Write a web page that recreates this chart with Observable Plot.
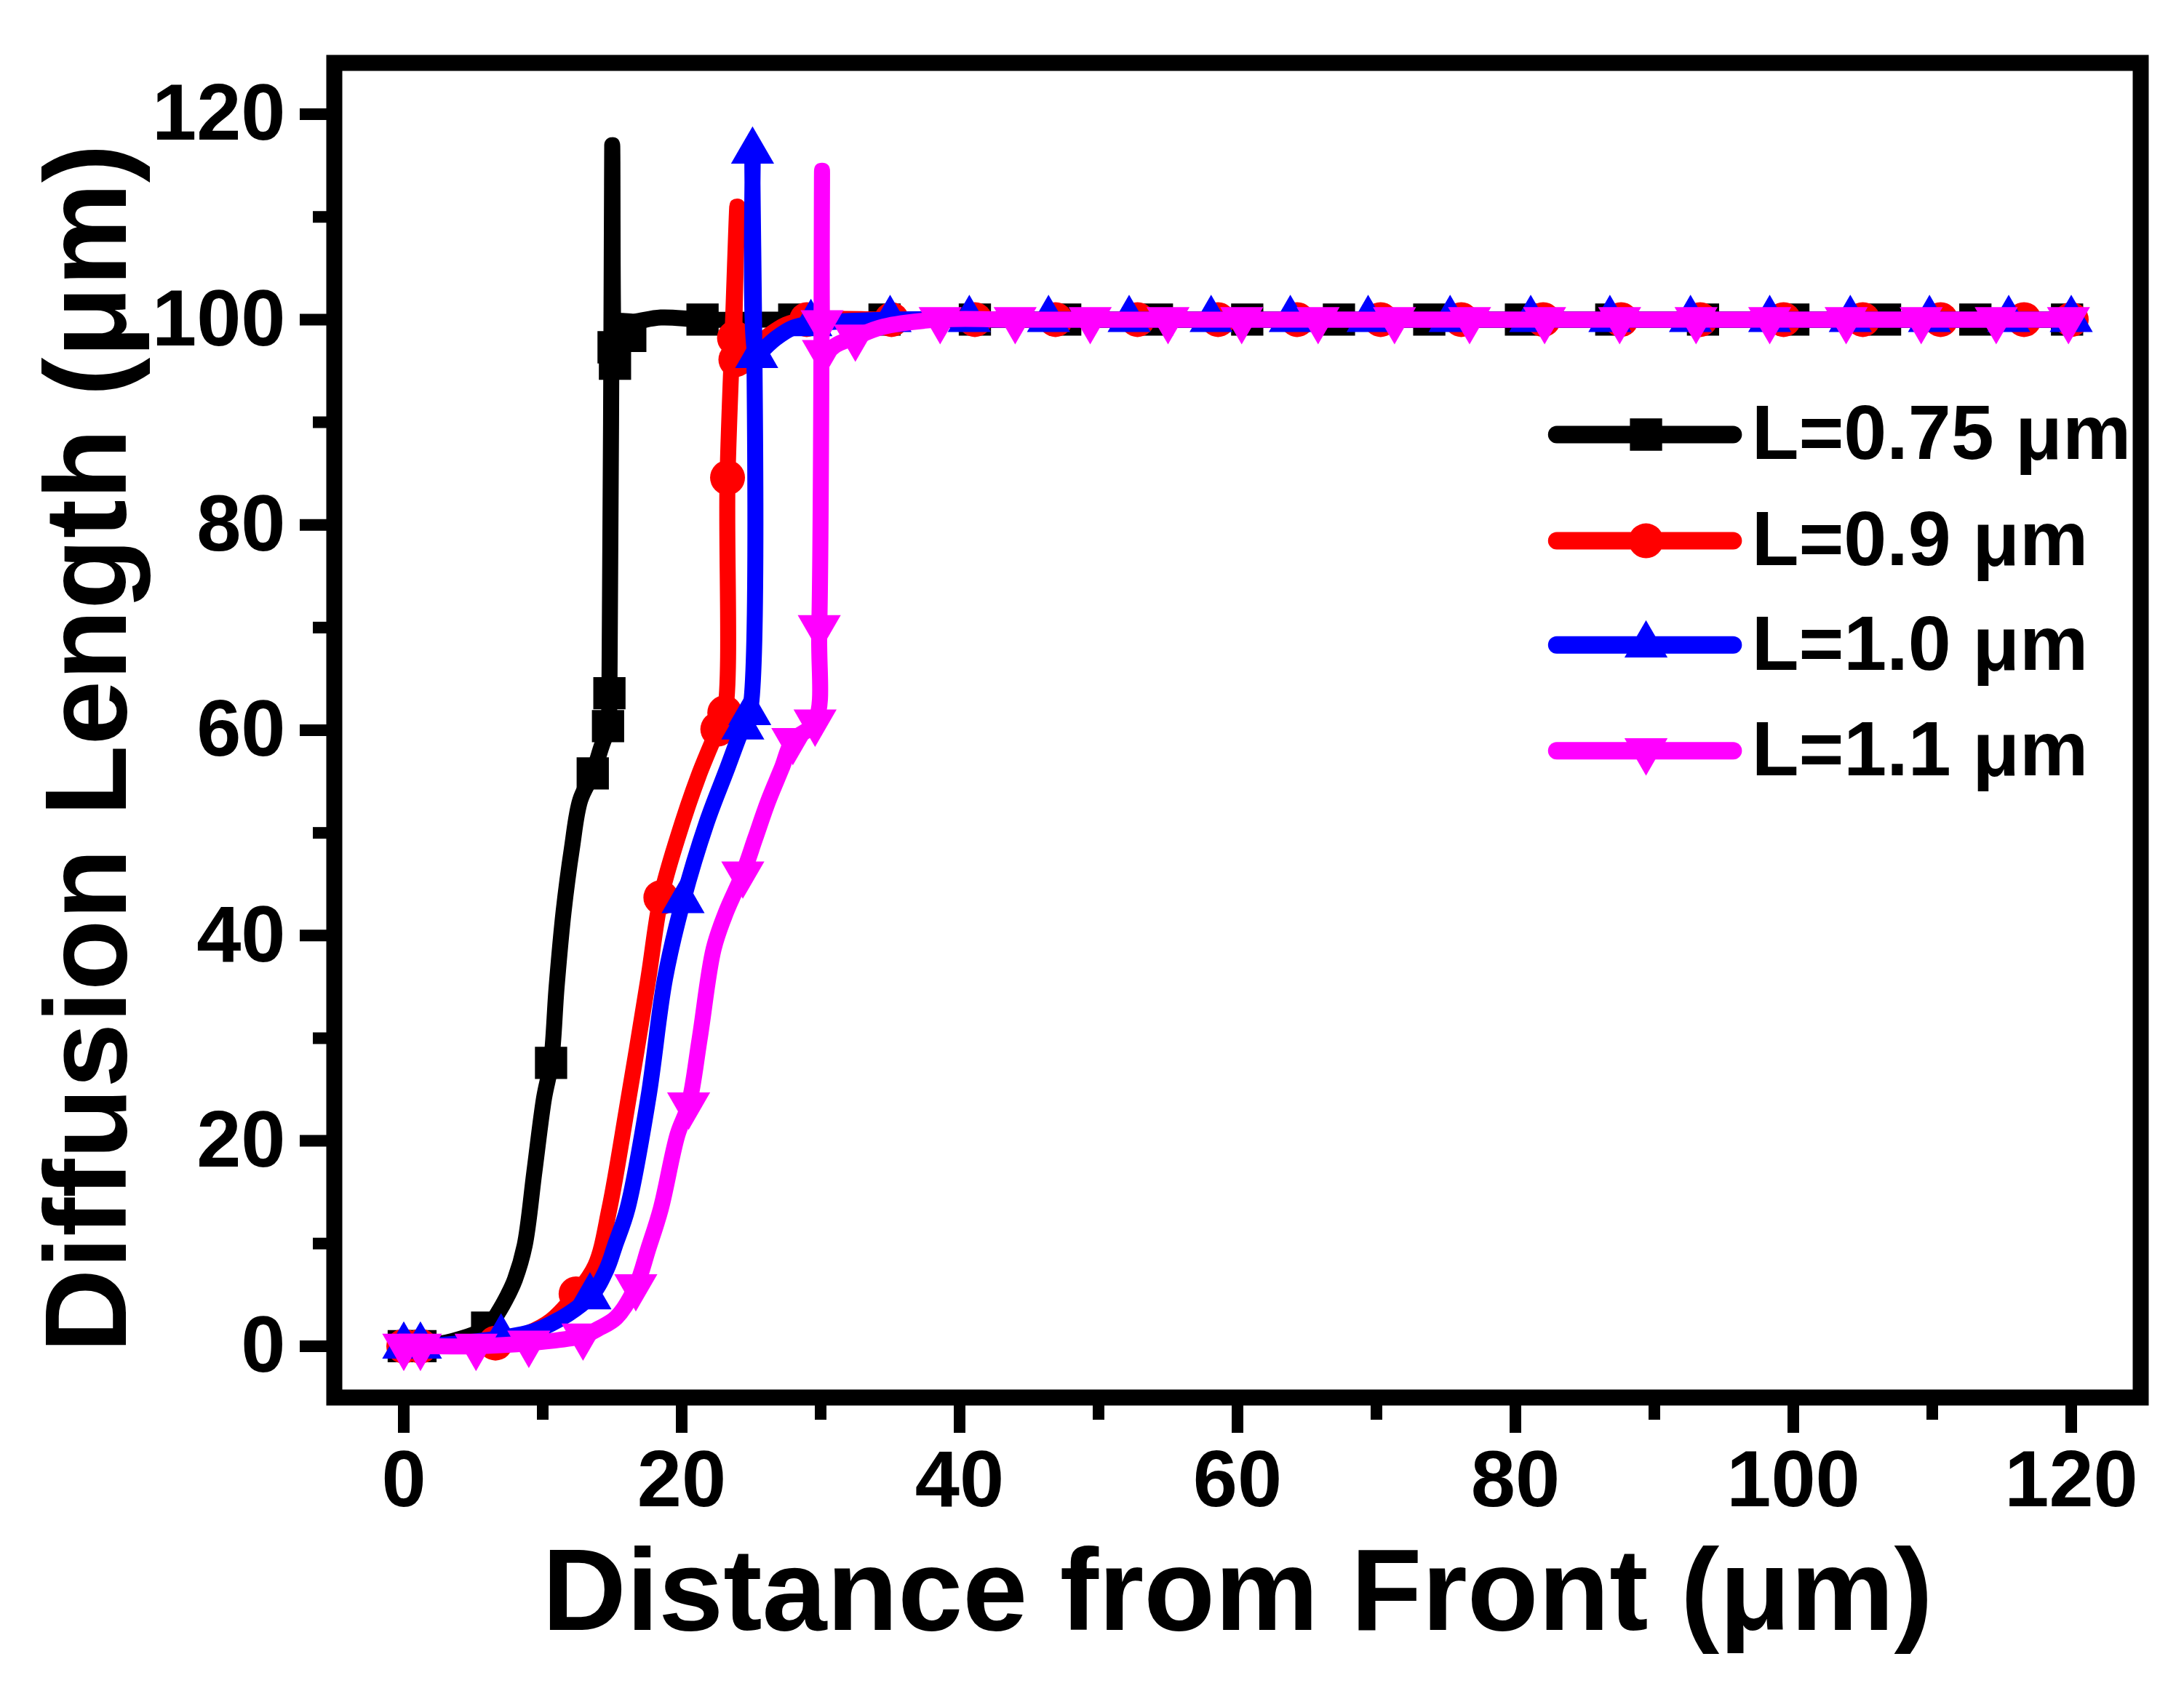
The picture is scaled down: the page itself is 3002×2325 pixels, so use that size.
<!DOCTYPE html>
<html><head><meta charset="utf-8">
<script src="https://cdn.jsdelivr.net/npm/d3@7"></script>
<script src="https://cdn.jsdelivr.net/npm/@observablehq/plot@0.6"></script>
<style>html,body{margin:0;padding:0;background:#fff} svg{display:block}</style>
</head><body><div id="chart"></div>
<script>
// ---- axis ticks ----
const xMajorTicks = [0, 20, 40, 60, 80, 100, 120];
const xMinorTicks = [10, 30, 50, 70, 90, 110];
const yMajorTicks = [0, 20, 40, 60, 80, 100, 120];
const yMinorTicks = [10, 30, 50, 70, 90, 110];
const seriesNames = ["L=0.75 μm", "L=0.9 μm", "L=1.0 μm", "L=1.1 μm"];
const seriesColors = ["#000000", "#ff0000", "#0000ff", "#ff00ff"];

// ---- L=0.75 um (black, squares) ----
const blackLineX = [0, 1.2, 3.5, 6.0, 6.8, 7.5, 8.0, 8.7, 9.4, 10.1, 10.6, 11.0, 11.5, 12.1, 12.7, 13.6, 14.2, 14.7, 14.8, 15.0, 15.1, 15.2, 15.4, 16.6, 18.5, 21.5, 28.1, 34.6, 41.1, 47.6, 54.2, 60.7, 67.3, 73.8, 80.4, 86.9, 93.5, 100.0, 106.6, 113.1, 119.7, 120.0];
const blackLineY = [0, 0, 0.5, 1.8, 3.3, 5.0, 6.5, 9.8, 17.0, 24.2, 27.6, 35.0, 42.3, 48.5, 53.2, 55.8, 58.3, 60.4, 63.6, 117.0, 97.3, 95.7, 99.7, 99.8, 100.2, 100, 100, 100, 100, 100, 100, 100, 100, 100, 100, 100, 100, 100, 100, 100, 100, 100];
const blackMarkX = [0, 1.2, 6.0, 10.6, 13.6, 14.7, 14.8, 15.1, 15.2, 16.3, 21.5, 28.1, 34.6, 41.1, 47.6, 54.2, 60.7, 67.3, 73.8, 80.4, 86.9, 93.5, 100.0, 106.6, 113.1, 119.7];
const blackMarkY = [0, 0, 1.8, 27.6, 55.8, 60.4, 63.6, 97.3, 95.7, 98.4, 100, 100, 100, 100, 100, 100, 100, 100, 100, 100, 100, 100, 100, 100, 100, 100];

// ---- L=0.9 um (red, circles) ----
const redLineX = [0, 1.2, 6.6, 9.0, 10.6, 12.4, 13.8, 14.8, 16.1, 17.6, 18.5, 19.7, 21.2, 22.6, 23.1, 23.3, 23.7, 24.0, 23.8, 23.9, 24.8, 26.1, 27.5, 29.0, 35.1, 41.1, 46.9, 52.8, 58.6, 64.3, 70.3, 76.1, 82.0, 87.6, 93.3, 99.3, 105.0, 110.6, 116.6, 120.0];
const redLineY = [0, 0, 0.3, 1.3, 2.5, 5.1, 7.9, 13.4, 23.5, 35.8, 43.7, 49.5, 55.5, 60.1, 61.7, 84.6, 100, 111, 98.2, 96.1, 96.9, 98.3, 99.5, 100, 100, 100, 100, 100, 100, 100, 100, 100, 100, 100, 100, 100, 100, 100, 100, 100];
const redMarkX = [0, 1.2, 6.6, 12.4, 18.5, 22.6, 23.1, 23.3, 23.8, 23.9, 29.0, 35.1, 41.1, 46.9, 52.8, 58.6, 64.3, 70.3, 76.1, 82.0, 87.6, 93.3, 99.3, 105.0, 110.6, 116.6, 120.0];
const redMarkY = [0, 0, 0.3, 5.1, 43.7, 60.1, 61.7, 84.6, 98.2, 96.1, 100, 100, 100, 100, 100, 100, 100, 100, 100, 100, 100, 100, 100, 100, 100, 100, 100];

// ---- L=1.0 um (blue, up triangles) ----
const blueLineX = [0, 1.2, 7.0, 10.0, 13.4, 14.6, 15.2, 16.1, 17.6, 18.8, 20.1, 21.8, 23.2, 24.4, 24.9, 25.1, 25.4, 25.8, 26.8, 28.0, 29.3, 35.0, 40.7, 46.4, 52.2, 58.1, 63.8, 69.4, 75.3, 81.1, 86.8, 92.6, 98.3, 104.1, 109.8, 115.5, 120.0];
const blueLineY = [0, 0, 0.8, 1.8, 4.8, 7.5, 9.8, 13.4, 24.2, 35.8, 43.4, 51.0, 56.0, 60.3, 61.7, 116.4, 96.5, 97.0, 98.2, 99.2, 99.6, 100, 100, 100, 100, 100, 100, 100, 100, 100, 100, 100, 100, 100, 100, 100, 100];
const blueMarkX = [0, 1.2, 7.0, 13.4, 20.1, 24.4, 24.9, 25.1, 25.4, 29.3, 35.0, 40.7, 46.4, 52.2, 58.1, 63.8, 69.4, 75.3, 81.1, 86.8, 92.6, 98.3, 104.1, 109.8, 115.5, 120.0];
const blueMarkY = [0, 0, 0.8, 4.8, 43.4, 60.3, 61.7, 116.4, 96.5, 99.6, 100, 100, 100, 100, 100, 100, 100, 100, 100, 100, 100, 100, 100, 100, 100, 100];

// ---- L=1.1 um (magenta, down triangles) ----
const pinkLineX = [0, 1.2, 5.2, 9.0, 12.9, 14.0, 15.3, 16.7, 17.6, 18.5, 19.7, 20.5, 21.3, 22.3, 23.2, 24.4, 25.3, 26.2, 27.2, 28.0, 29.6, 29.9, 30.1, 30.1, 30.2, 31.2, 32.5, 34.5, 38.6, 44.0, 49.4, 55.0, 60.3, 65.8, 71.3, 76.7, 82.1, 87.5, 93.0, 98.3, 103.8, 109.2, 114.6, 119.8, 120.0];
const pinkLineY = [0, 0, 0, 0.3, 1.0, 1.7, 2.8, 5.8, 9.5, 13.4, 20.6, 23.5, 30.0, 38.7, 42.3, 46.0, 49.5, 53.0, 56.3, 59.0, 60.8, 70.0, 114.5, 99.7, 96.8, 97.6, 98.3, 99.3, 100, 100, 100, 100, 100, 100, 100, 100, 100, 100, 100, 100, 100, 100, 100, 100, 100];
const pinkMarkX = [0, 1.2, 5.2, 9.0, 12.9, 16.7, 20.5, 24.4, 28.0, 29.6, 29.9, 30.1, 30.2, 32.5, 38.6, 44.0, 49.4, 55.0, 60.3, 65.8, 71.3, 76.7, 82.1, 87.5, 93.0, 98.3, 103.8, 109.2, 114.6, 119.8];
const pinkMarkY = [0, 0, 0, 0.3, 1.0, 5.8, 23.5, 46.0, 59.0, 60.8, 70.0, 99.7, 96.8, 98.3, 100, 100, 100, 100, 100, 100, 100, 100, 100, 100, 100, 100, 100, 100, 100, 100];

// ---- legend placement (data units) ----
const legendRowY = [88.8, 78.45, 68.3, 58.0];
const legendLineX1 = 83.0, legendLineX2 = 95.7, legendMarkerX = 89.4, legendTextX = 97.0;

const zip = (xs, ys) => xs.map((x, i) => ({x, y: ys[i]}));
const series = [
  {name: seriesNames[0], color: seriesColors[0], symbol: "square", rotate: 0, r: 25, line: zip(blackLineX, blackLineY), marks: zip(blackMarkX, blackMarkY)},
  {name: seriesNames[1], color: seriesColors[1], symbol: "circle", rotate: 0, r: 24, line: zip(redLineX, redLineY), marks: zip(redMarkX, redMarkY)},
  {name: seriesNames[2], color: seriesColors[2], symbol: "triangle", rotate: 0, r: 22, line: zip(blueLineX, blueLineY), marks: zip(blueMarkX, blueMarkY)},
  {name: seriesNames[3], color: seriesColors[3], symbol: "triangle", rotate: 180, r: 22, line: zip(pinkLineX, pinkLineY), marks: zip(pinkMarkX, pinkMarkY)}
];

const font = "'Liberation Sans', Arial, Helvetica, sans-serif";
const marks = [];
for (const s of series) {
  marks.push(Plot.line(s.line, {x: "x", y: "y", stroke: s.color, strokeWidth: 22, strokeLinejoin: "round", strokeLinecap: "round", curve: "catmull-rom"}));
  marks.push(Plot.dot(s.marks, {x: "x", y: "y", symbol: s.symbol, r: s.r, fill: s.color, stroke: "none", rotate: s.rotate}));
}
// legend
series.forEach((s, i) => {
  const row = [{y: legendRowY[i], name: s.name}];
  marks.push(Plot.ruleY(row, {y: "y", x1: legendLineX1, x2: legendLineX2, stroke: s.color, strokeWidth: 24, strokeLinecap: "round"}));
  marks.push(Plot.dot(row, {x: legendMarkerX, y: "y", symbol: s.symbol, r: s.r, fill: s.color, stroke: "none", rotate: s.rotate}));
  marks.push(Plot.text(row, {x: legendTextX, y: "y", text: "name", textAnchor: "start", lineAnchor: "middle", fontSize: 106, fontWeight: "bold", fill: "#000"}));
});
// frame and axes
marks.push(Plot.frame({stroke: "#000", strokeWidth: 22}));
marks.push(Plot.axisX({ticks: xMajorTicks, tickSize: 49, tickPadding: 22, strokeWidth: 16, fontSize: 110, fontWeight: "bold", label: null, tickFormat: d => String(d)}));
marks.push(Plot.axisX({ticks: xMinorTicks, tickSize: 31, strokeWidth: 16, label: null, tickFormat: () => ""}));
marks.push(Plot.axisY({ticks: yMajorTicks, tickSize: 47, tickPadding: 20, strokeWidth: 16, fontSize: 110, fontWeight: "bold", label: null, tickFormat: d => String(d)}));
marks.push(Plot.axisY({ticks: yMinorTicks, tickSize: 29, strokeWidth: 16, label: null, tickFormat: () => ""}));
marks.push(Plot.text(["Distance from Front (μm)"], {text: d => d, frameAnchor: "bottom", textAnchor: "middle", dy: 319, lineAnchor: "bottom", fontSize: 160, fontWeight: "bold", fill: "#000"}));
marks.push(Plot.text(["Diffusion Length (μm)"], {text: d => d, frameAnchor: "left", textAnchor: "middle", rotate: -90, dx: -287, dy: 25, lineAnchor: "bottom", fontSize: 160, fontWeight: "bold", fill: "#000"}));

const chart = Plot.plot({
  width: 3002, height: 2325,
  marginLeft: 459, marginRight: 60, marginTop: 86, marginBottom: 404,
  x: {domain: [-5, 125]},
  y: {domain: [-5, 125]},
  style: {fontFamily: font, background: "#fff", color: "#000", overflow: "visible"},
  marks
});
document.getElementById("chart").appendChild(chart);
</script>
</body></html>
